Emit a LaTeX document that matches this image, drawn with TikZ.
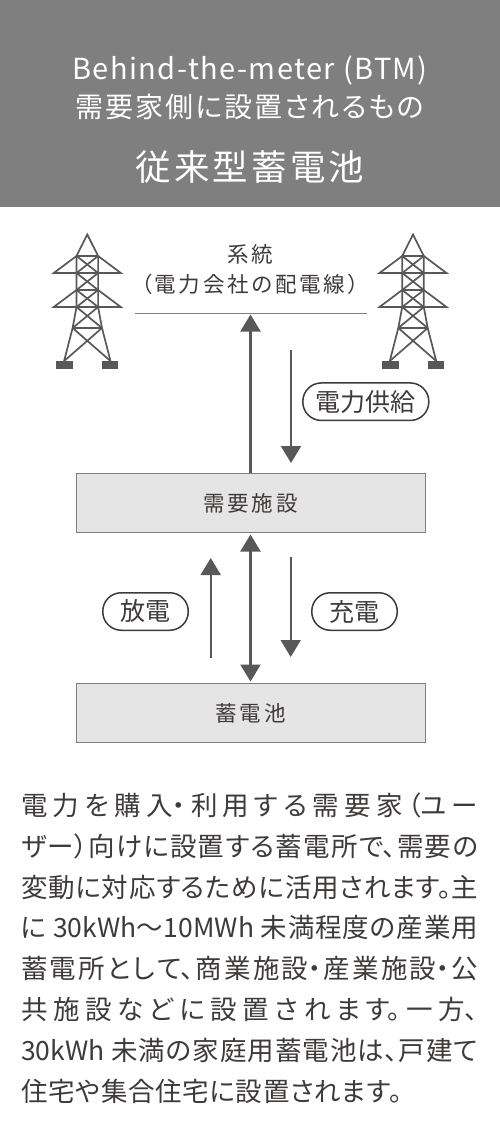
\documentclass[tikz,border=0pt]{standalone}
\usepackage{fontspec}
\setmainfont{Noto Sans CJK JP}[RawFeature=+palt]
\usetikzlibrary{arrows.meta}
\XeTeXlinebreaklocale "ja"
\XeTeXlinebreakskip=0pt plus 6pt
\definecolor{fascia}{HTML}{7F7F7F}
\definecolor{scuro}{HTML}{595757}
\definecolor{testo}{HTML}{3E3A39}
\definecolor{riquadro}{HTML}{E6E5E5}
\newcommand{\spaziato}[1]{\addfontfeature{LetterSpace=#1}}
\begin{document}
\begin{tikzpicture}[x=1pt, y=-1pt,
		asta/.style={line width=1.7pt, line join=miter, scuro},
		freccia/.style={line width=1.8pt, scuro, -{Triangle[width=20pt,length=17pt]}},
		frecciona/.style={line width=2.2pt, scuro, -{Triangle[width=20pt,length=17pt]}},
		doppia/.style={line width=2.2pt, scuro, {Triangle[width=20pt,length=17pt]}-{Triangle[width=20pt,length=17pt]}, shorten <=1.5pt, shorten >=1.5pt},
		scatola/.style={draw=fascia, fill=riquadro, line width=1pt, minimum width=349pt, minimum height=59pt, inner sep=0pt, text=testo},
		pillola/.style={draw=testo, fill=white, line width=1.5pt, rounded corners=18.5pt, minimum height=37.5pt, inner sep=0pt, text=testo, font=\fontsize{25}{25}\selectfont},
		testa/.style={anchor=base, text=white, inner sep=0pt},
		etich/.style={anchor=base, text=testo, inner sep=0pt, font=\fontsize{21.5}{21.5}\selectfont\spaziato{13}},
		riga/.style={anchor=base west, text=testo, inner sep=0pt, font=\fontsize{26.5}{26.5}\selectfont},
		]
		
		\newcommand{\traliccio}[1]{%
			\begin{scope}[xshift=#1pt]
				%% livelli del fusto
				\foreach \k/\y/\a in {0/256/10.8, 1/273/10.8, 2/290/10.8, 3/307/10.8, 4/328/14.7, 5/361/23.2}{
					\coordinate (L\k) at (-\a,\y);
					\coordinate (R\k) at ( \a,\y);}
				\coordinate (cima) at (0,234.5);
				%% montanti e traversi
				\draw[asta](L5)--(L4)--(L3)--(L2)--(L1)--(L0)--(cima)--(R0)--(R1)--(R2)--(R3)--(R4)--(R5);
				\foreach \k in {0,...,4}
				\draw[asta](L\k)--(R\k);
				%% controventi a X
				\foreach \k [evaluate=\k as \j using int(\k+1)] in {0,...,4}{
					\draw[asta](L\k)--(R\j);
					\draw[asta](R\k)--(L\j);}
				%% mensole
				\draw[asta](L0)--(-33.5,273)--(33.5,273)--(R0);
				\draw[asta](L2)--(-33.5,307)--(33.5,307)--(R2);
				%% piedi
				\fill[scuro](-31,361) rectangle (-14.5,369);
				\fill[scuro](14.5,361) rectangle (31,369);
		\end{scope}}
		
		\useasboundingbox (0,0) rectangle (500,1135);
		
		%% =========================================================
		%% FASCIA DI TESTA
		%% =========================================================
		\fill[fascia](0,0) rectangle (500,207);
		\node[testa, font=\fontsize{29}{29}\selectfont\spaziato{5}] (titoloA) at (250,79) {Behind-the-meter (BTM)};
		\node[testa, font=\fontsize{28}{28}\selectfont\spaziato{7}] (titoloB) at (250,117) {需要家側に設置されるもの};
		\node[testa, font=\fontsize{35.5}{35.5}\selectfont\spaziato{9}] (titoloC) at (250,180) {従来型蓄電池};
		
		%% =========================================================
		%% SCHEMA
		%% =========================================================
		\traliccio{87.3}
		\traliccio{413}
		
		\node[etich] (sistema) at (250,262) {系統};
		\node[etich] (rete) at (250,292) {（電力会社の配電線）};
		\coordinate (retesx) at (135,313.5);
		\coordinate (retedx) at (367,313.5);
		\draw[line width=1.8pt, fascia](retesx)--(retedx);
		
		\node[scatola] (utenza) at (250.5,503) {\fontsize{21.5}{21.5}\selectfont\spaziato{13}需要施設};
		\node[scatola] (batteria) at (250.5,713) {\fontsize{21.5}{21.5}\selectfont\spaziato{13}蓄電池};
		
		%% frecce fra rete e utenza
		\coordinate (arrivo) at (250.5,314.5);
		\coordinate (fornA) at (291,350);
		\coordinate (fornB) at (291,463);
		\draw[frecciona](utenza.north)--(arrivo);
		\draw[freccia](fornA)--(fornB);
		
		%% frecce fra utenza e batteria
		\coordinate (scarA) at (210.7,658);
		\coordinate (scarB) at (210.7,558);
		\coordinate (caricA) at (290.7,557);
		\coordinate (caricB) at (290.7,657);
		\draw[doppia](utenza.south)--(batteria.north);
		\draw[freccia](scarA)--(scarB);
		\draw[freccia](caricA)--(caricB);
		
		\node[pillola, minimum width=126pt] (fornitura) at (365.8,401.7) {電力供給};
		\node[pillola, minimum width=85.5pt] (scarica) at (145.5,611.5) {放電};
		\node[pillola, minimum width=85.5pt] (carica) at (354.5,611.5) {充電};
		
		%% =========================================================
		%% TESTO
		%% =========================================================
		\foreach \k/\y/\t in {1/815.5/{電力を購入・利用する需要家（ユー},
			2/856.3/{ザー）向けに設置する蓄電所で、需要の},
			3/897.1/{変動に対応するために活用されます。主},
			4/937.9/{に 30kWh〜10MWh 未満程度の産業用},
			5/978.7/{蓄電所として、商業施設・産業施設・公},
			6/1019.5/{共施設などに設置されます。一方、},
			7/1060.3/{30kWh 未満の家庭用蓄電池は、戸建て}}
		\node[riga] (riga\k) at (21,\y) {\parbox[b]{457pt}{\parfillskip=0pt \tolerance=10000 \hbadness=10000 \t}};
		\node[riga] (riga8) at (21,1101.1) {\spaziato{2.5}住宅や集合住宅に設置されます。};
		
\end{tikzpicture}
\end{document}
